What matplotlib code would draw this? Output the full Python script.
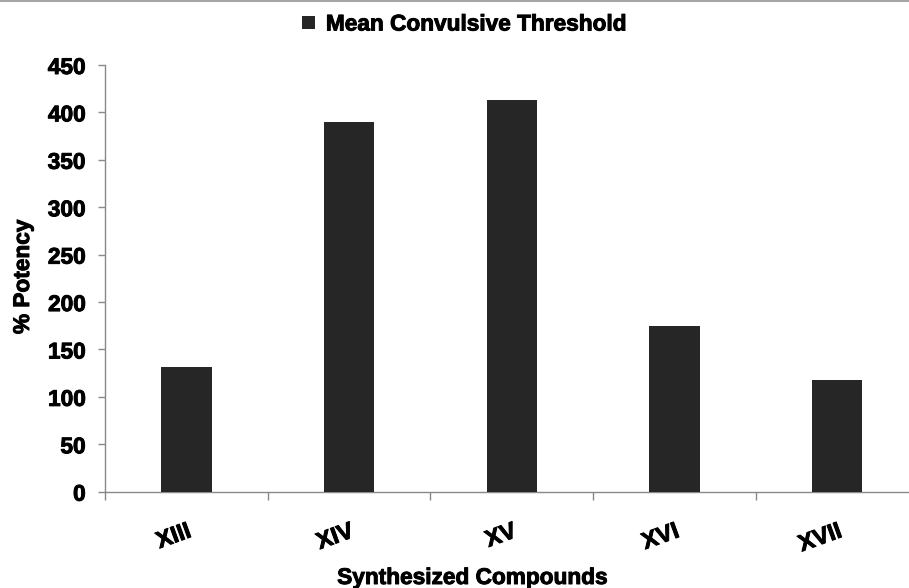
import matplotlib
matplotlib.use("Agg")
import matplotlib.pyplot as plt
import matplotlib.patheffects as pe
from matplotlib.lines import Line2D
import numpy as np

categories = ["XIII", "XIV", "XV", "XVI", "XVII"]
values = [131, 390, 413, 174.5, 117.5]
yticks = [0, 50, 100, 150, 200, 250, 300, 350, 400, 450]
series_name = "Mean Convulsive Threshold"

plt.rcParams['font.family'] = ['Liberation Sans', 'DejaVu Sans']
plt.rcParams['font.weight'] = 'bold'
FS = 16.3
W, H = 909, 588
heavy = [pe.withStroke(linewidth=0.7, foreground='black')]

fig = plt.figure(figsize=(W / 100, H / 100), dpi=100)
ax = fig.add_axes([105 / W, 1 - 491.7 / H, 813.5 / W, (491.7 - 65) / H])

x = np.arange(len(categories))
ax.bar(x, values, width=0.31, color='#262626', label=series_name, zorder=3)

ax.set_xlim(-0.5, len(categories) - 0.5)
ax.set_ylim(0, 450)
ax.set_yticks(yticks)
ax.set_yticklabels([str(v) for v in yticks], fontsize=FS, fontweight='bold')

ax.set_xticks(x)
ax.set_xticklabels(categories, fontsize=FS + 0.5, fontweight='bold', rotation=20,
                   ha='right', va='top', rotation_mode='anchor')
ax.set_xticks(np.arange(len(categories) + 1) - 0.5, minor=True)
ax.tick_params(axis='x', which='major', length=0, pad=20)
ax.tick_params(axis='x', which='minor', length=6, width=1, color='#898989', direction='out')
ax.tick_params(axis='y', length=5, width=1, color='#898989', direction='out', pad=9)

for s in ['top', 'right']:
    ax.spines[s].set_visible(False)
for s in ['left', 'bottom']:
    ax.spines[s].set_color('#898989')
    ax.spines[s].set_linewidth(1)

for t in ax.get_xticklabels() + ax.get_yticklabels():
    t.set_path_effects(heavy)

fig.text(22.5 / W, 1 - 277 / H, "% Potency", rotation=90, ha='center', va='center',
         fontsize=FS, fontweight='bold', path_effects=heavy)
fig.text(472 / W, 1 - 584 / H, "Synthesized Compounds", ha='center', va='baseline',
         fontsize=FS, fontweight='bold', path_effects=heavy)

leg = fig.legend(loc='center', bbox_to_anchor=(464 / W, 1 - 24 / H), frameon=False,
                 fontsize=FS, handlelength=0.55, handleheight=0.55, handletextpad=0.5,
                 borderpad=0, borderaxespad=0)
for t in leg.get_texts():
    t.set_fontweight('bold')
    t.set_path_effects(heavy)

fig.add_artist(Line2D([0, 1], [1 - 1 / H, 1 - 1 / H], transform=fig.transFigure,
                      color='#a6a6a6', linewidth=1.5))

fig.savefig("out.png", dpi=100)
